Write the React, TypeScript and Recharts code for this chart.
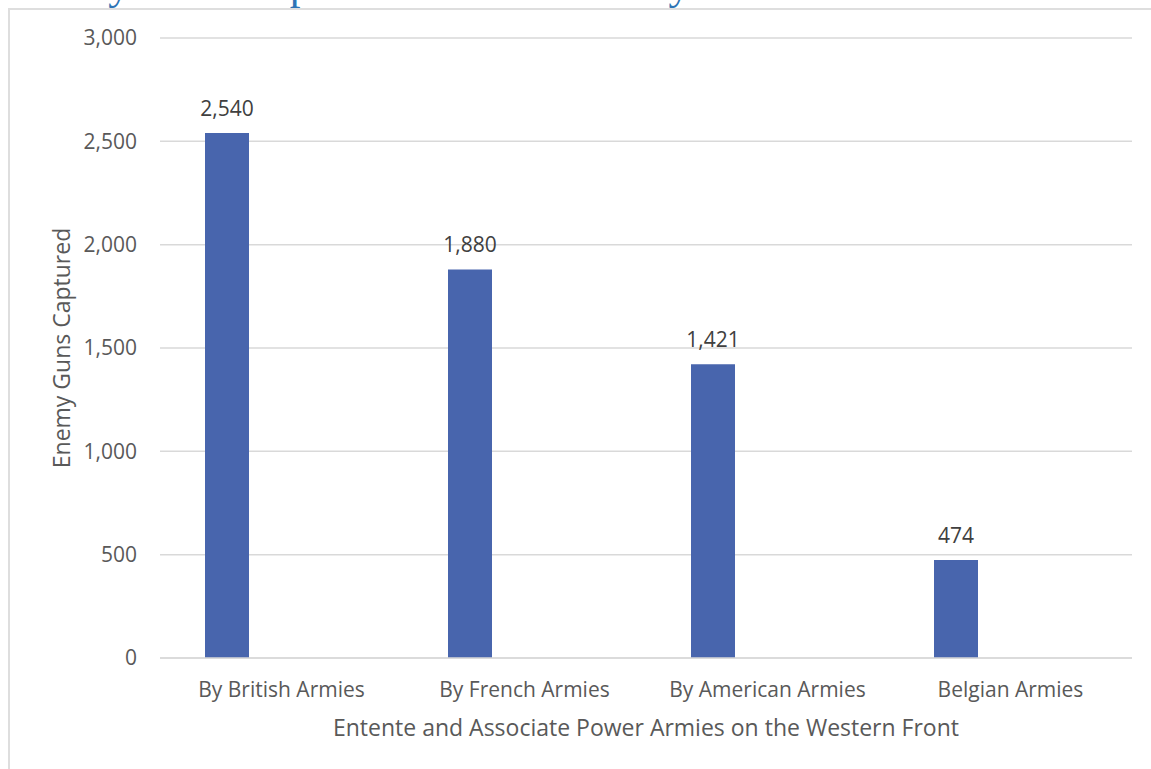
import {
  BarChart,
  Bar,
  XAxis,
  YAxis,
  CartesianGrid,
  LabelList,
} from "recharts";

const armies = ["By British Armies", "By French Armies", "By American Armies", "Belgian Armies"];
const gunsCaptured = [2540, 1880, 1421, 474];
// second (empty) series slot, kept so the bars sit left of centre like the original
const secondSeries = [null, null, null, null];
const yTicks = [0, 500, 1000, 1500, 2000, 2500, 3000];

const data = armies.map((name, i) => ({
  name,
  guns: gunsCaptured[i],
  other: secondSeries[i],
}));

const FONT = "'Open Sans', 'Noto Sans', sans-serif";
const fmt = (v: number) => v.toLocaleString("en-US");

export default function App() {
  return (
    <div style={{ position: "absolute", left: 0, top: 0, width: 1151, height: 769, overflow: "hidden", background: "#fff" }}>
      <svg width={1151} height={20} style={{ position: "absolute", left: 0, top: 0 }}>
        <text x={8} y={-1} fontFamily="'Liberation Serif', serif" fontSize={43} fill="#2e74b5">
          Enemy Guns Captured between 18 July and 11 November 1918
        </text>
      </svg>
      <div
        style={{
          position: "absolute",
          left: 8,
          top: 8,
          width: 1200,
          height: 800,
          border: "2px solid #dedede",
          boxSizing: "border-box",
        }}
      />
      <div style={{ position: "absolute", left: 0, top: 0 }}>
        <BarChart
          width={1151}
          height={769}
          data={data}
          margin={{ top: 38, right: 19, bottom: 0, left: 0 }}
          barSize={44}
          barGap={65}
          style={{ fontFamily: FONT }}
        >
          <CartesianGrid stroke="#d9d9d9" strokeWidth={1.5} vertical={false} />
          <XAxis
            dataKey="name"
            height={111}
            axisLine={{ stroke: "#d9d9d9", strokeWidth: 1.5 }}
            tickLine={false}
            tickSize={0}
            tickMargin={24}
            tick={{ fontSize: 21, fill: "#595959" }}
            label={{
              value: "Entente and Associate Power Armies on the Western Front",
              position: "insideTop",
              offset: 62,
              style: { fontSize: 23, fill: "#595959" },
            }}
          />
          <YAxis
            width={160}
            domain={[0, 3000]}
            ticks={yTicks}
            tickFormatter={fmt}
            axisLine={false}
            tickLine={false}
            tickSize={0}
            tickMargin={23}
            tick={{ fontSize: 21, fill: "#595959" }}
            label={{
              value: "Enemy Guns Captured",
              angle: -90,
              position: "center",
              dx: -18,
              style: { fontSize: 23, fill: "#595959", textAnchor: "middle" },
            }}
          />
          <Bar dataKey="guns" fill="#4865ad" isAnimationActive={false}>
            <LabelList
              dataKey="guns"
              position="top"
              offset={17}
              formatter={(v: number) => fmt(v)}
              style={{ fontSize: 21, fill: "#404040" }}
            />
          </Bar>
          <Bar dataKey="other" fill="#ed7d31" isAnimationActive={false} />
        </BarChart>
      </div>
    </div>
  );
}
